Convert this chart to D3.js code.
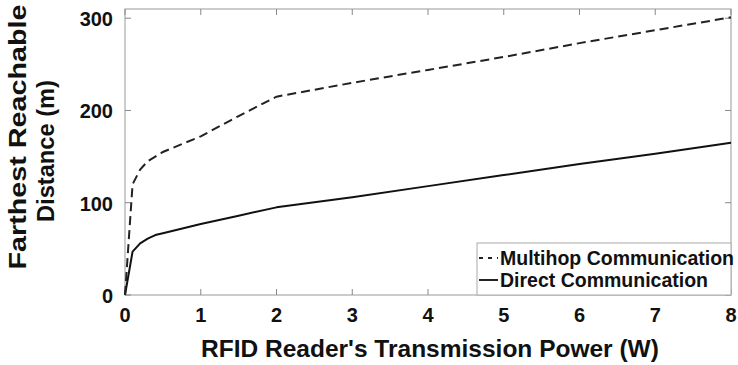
<!DOCTYPE html>
<html>
<head>
<meta charset="utf-8">
<script src="https://cdn.jsdelivr.net/npm/d3@7"></script>
<style>
  body { margin: 0; background: #fff; }
  text { font-family: "Liberation Sans", Arial, sans-serif; font-weight: bold; fill: #111; }
</style>
</head>
<body>
<svg width="738" height="365"></svg>
<script>
// power levels (W)
const power = [0, 0.1, 0.2, 0.3, 0.4, 0.5, 1, 1.5, 2, 3, 4, 5, 6, 7, 8]
// farthest reachable distance (m)
const multihop = [0, 120, 136, 145, 150, 155, 172, 194, 215, 230, 244, 258, 273, 287, 301]
const direct = [0, 47, 56, 61, 65, 67, 77, 86, 95, 106, 118, 130, 142, 153, 165]

const xTicks = [0, 1, 2, 3, 4, 5, 6, 7, 8]
const yTicks = [0, 100, 200, 300]
const seriesNames = ["Multihop Communication", "Direct Communication"]

const svg = d3.select("svg")
const plotL = 125, plotR = 731, plotT = 9, plotB = 295

const x = d3.scaleLinear().domain([0, 8]).range([plotL, plotR])
const y = d3.scaleLinear().domain([0, 310]).range([plotB, plotT])

//box
svg.append("rect")
  .attr("x", plotL).attr("y", plotT)
  .attr("width", plotR - plotL).attr("height", plotB - plotT)
  .attr("fill", "none").attr("stroke", "#999").attr("stroke-width", 1)

//ticks on all four sides, pointing inwards
const g = svg.append("g").attr("stroke", "#888").attr("stroke-width", 1)
xTicks.forEach(t => {
  g.append("line").attr("x1", x(t)).attr("x2", x(t)).attr("y1", plotB).attr("y2", plotB - 6)
  g.append("line").attr("x1", x(t)).attr("x2", x(t)).attr("y1", plotT).attr("y2", plotT + 6)
})
yTicks.forEach(t => {
  g.append("line").attr("x1", plotL).attr("x2", plotL + 6).attr("y1", y(t)).attr("y2", y(t))
  g.append("line").attr("x1", plotR).attr("x2", plotR - 6).attr("y1", y(t)).attr("y2", y(t))
})

//tick labels
svg.selectAll("text.xt").data(xTicks).enter().append("text")
  .attr("class", "xt")
  .attr("x", d => x(d)).attr("y", 322)
  .attr("text-anchor", "middle").attr("font-size", 20)
  .text(d => d)

svg.selectAll("text.yt").data(yTicks).enter().append("text")
  .attr("class", "yt")
  .attr("x", plotL - 12).attr("y", d => y(d) + 8)
  .attr("text-anchor", "end").attr("font-size", 20)
  .text(d => d)

//axis titles
svg.append("text")
  .attr("x", 430).attr("y", 357)
  .attr("text-anchor", "middle").attr("font-size", 24.5)
  .text("RFID Reader's Transmission Power (W)")

svg.append("text")
  .attr("transform", "translate(26,137) rotate(-90)")
  .attr("text-anchor", "middle").attr("font-size", 23)
  .attr("textLength", 265).attr("lengthAdjust", "spacingAndGlyphs")
  .text("Farthest Reachable")

svg.append("text")
  .attr("transform", "translate(54,151) rotate(-90)")
  .attr("text-anchor", "middle").attr("font-size", 23)
  .attr("textLength", 142).attr("lengthAdjust", "spacingAndGlyphs")
  .text("Distance (m)")

//lines
const line = d3.line().x((d, i) => x(power[i])).y(d => y(d))

svg.append("path")
  .attr("d", line(direct))
  .attr("fill", "none").attr("stroke", "#111").attr("stroke-width", 2)
  .attr("stroke-linejoin", "round")

svg.append("path")
  .attr("d", line(multihop))
  .attr("fill", "none").attr("stroke", "#222").attr("stroke-width", 2)
  .attr("stroke-dasharray", "9,5")

//legend
const lg = svg.append("g")
lg.append("rect")
  .attr("x", 477).attr("y", 243)
  .attr("width", plotR - 477).attr("height", plotB - 243)
  .attr("fill", "#fff").attr("stroke", "#aaa")

const dashes = ["4,5", null]
seriesNames.forEach((name, i) => {
  const cy = 258 + i * 22
  lg.append("line")
    .attr("x1", 479).attr("x2", 498).attr("y1", cy).attr("y2", cy)
    .attr("stroke", "#222").attr("stroke-width", 2)
    .attr("stroke-dasharray", dashes[i])
  lg.append("text")
    .attr("x", 500).attr("y", 265 + i * 22)
    .attr("font-size", 19.5)
    .text(name)
})
</script>
</body>
</html>
